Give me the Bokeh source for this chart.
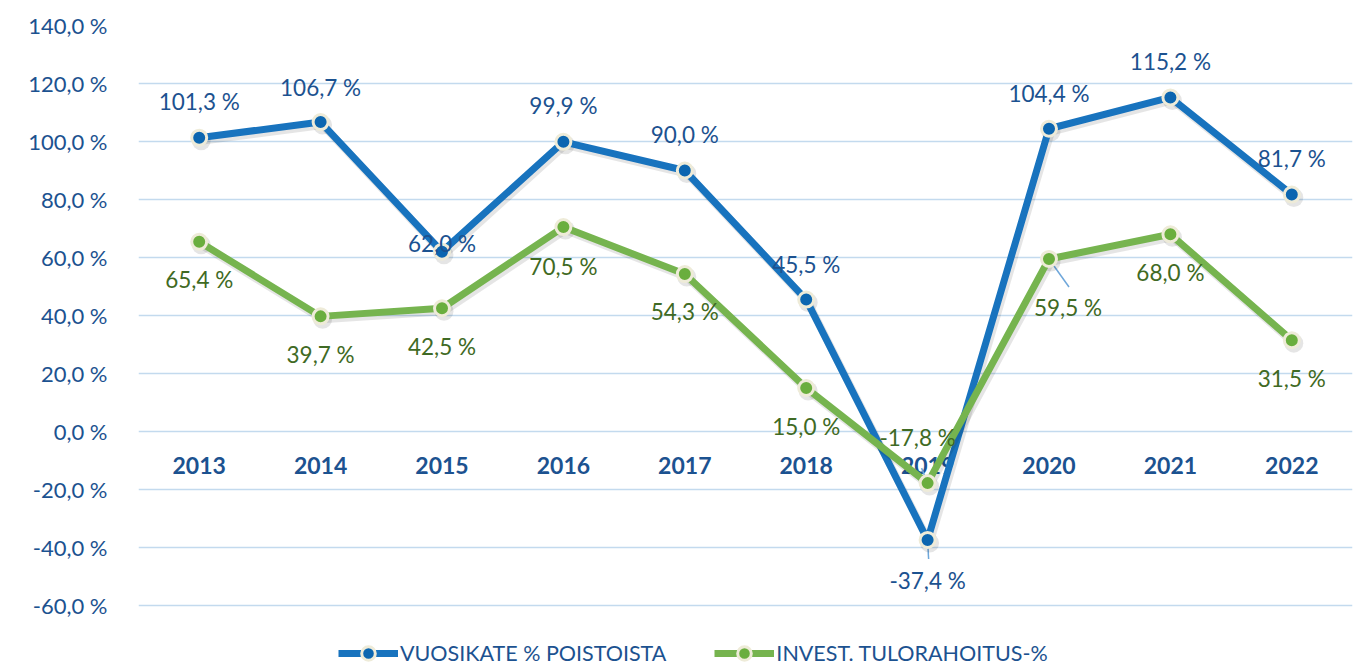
from bokeh.plotting import figure
from bokeh.models import (Range1d, FixedTicker, CustomJSTickFormatter, Legend, LegendItem,
                          ColumnDataSource)
from bokeh.core.properties import value
from bokeh.embed import file_html
from bokeh.resources import INLINE

# ---- data ----
years = ["2013", "2014", "2015", "2016", "2017", "2018", "2019", "2020", "2021", "2022"]
vuosikate = [101.3, 106.7, 62.0, 99.9, 90.0, 45.5, -37.4, 104.4, 115.2, 81.7]
tulorahoitus = [65.4, 39.7, 42.5, 70.5, 54.3, 15.0, -17.8, 59.5, 68.0, 31.5]
y_ticks = [-60, -40, -20, 0, 20, 40, 60, 80, 100, 120, 140]
series_names = ["VUOSIKATE % POISTOISTA", "INVEST. TULORAHOITUS-%"]

# ---- styling / layout ----
FONT = "Lato"
BLUE = "#1873BE"
BLUE_DOT = "#0C66B0"
GREEN = "#76B44F"
GREEN_DOT = "#6AAE3E"
BLUE_TXT = "#1C5290"
GREEN_TXT = "#3F6A24"
RING = "#EEEBD8"
GRID = "#C3DAEE"

W, H = 1360, 670
LEFT, RIGHT = 138, 1352          # frame horizontal extent (px)
TOP, Y_BOTTOM_TICK = 25, 605     # pixel rows of y=140 and y=-60
Y_MAX, Y_MIN_TICK = 140, -60
px_y = (Y_BOTTOM_TICK - TOP) / (Y_MAX - Y_MIN_TICK)
y_start = Y_MIN_TICK - (H - Y_BOTTOM_TICK) / px_y
px_x = (RIGHT - LEFT) / len(years)

# label offsets in screen pixels (dx, dy; dy positive = down)
blue_off = [(0, -36), (0, -35), (0, -8), (0, -36), (0, -36), (0, -35), (0, 41), (0, -35), (0, -36), (0, -36)]
green_off = [(0, 38), (0, 38), (0, 38), (0, 39), (0, 37), (0, 38), (-10, -46), (19, 49), (0, 38), (0, 38)]
SH_DX, SH_DY = 2, 3   # shadow offset, px

def fmt(v):
    return f"{v:.1f}".replace(".", ",") + " %"

x = list(range(len(years)))

p = figure(width=W, height=H, output_backend="svg", toolbar_location=None,
           x_range=Range1d(-0.5, len(years) - 0.5), y_range=Range1d(y_start, Y_MAX),
           x_axis_location=None, min_border_left=LEFT, min_border_right=W - RIGHT,
           min_border_top=TOP, min_border_bottom=0)
p.outline_line_color = None
p.background_fill_color = "white"
p.border_fill_color = "white"
p.xgrid.grid_line_color = None
p.ygrid.grid_line_color = GRID
p.ygrid.grid_line_width = 1.5

yax = p.yaxis[0]
yax.ticker = FixedTicker(ticks=y_ticks)
yax.formatter = CustomJSTickFormatter(code="return tick.toFixed(1).replace('.', ',') + ' %'")
yax.axis_line_color = None
yax.major_tick_line_color = None
yax.minor_tick_line_color = None
yax.major_label_standoff = 25
yax.major_label_text_font = FONT
yax.major_label_text_font_size = "22px"
yax.major_label_text_color = BLUE_TXT

# category labels at the zero line
p.text(x=x, y=[0] * len(x), text=years, y_offset=34, text_align="center",
       text_baseline="middle", text_font=value(FONT), text_font_style="bold",
       text_font_size="23px", text_color=BLUE_TXT)

# leader lines (px offsets converted to data units)
leaders = [(vuosikate, 6, (1, 19)), (tulorahoitus, 6, (-6, -15)), (tulorahoitus, 7, (20, 28))]
lx0, ly0, lx1, ly1 = [], [], [], []
for ser, i, (dx, dy) in leaders:
    lx0.append(x[i]); ly0.append(ser[i])
    lx1.append(x[i] + dx / px_x); ly1.append(ser[i] - dy / px_y)
p.segment(lx0, ly0, lx1, ly1, line_color="#6FA7DA", line_width=1.5)

def shadow(ser):
    sx = [v + SH_DX / px_x for v in x]
    sy = [v - SH_DY / px_y for v in ser]
    p.line(sx, sy, line_color="#000000", line_alpha=0.10, line_width=8, line_join="round")
    p.scatter(sx, sy, size=19, fill_color="#000000", fill_alpha=0.10, line_color=None)

# series
shadow(vuosikate)
bl = p.line(x, vuosikate, line_color=BLUE, line_width=7, line_join="round")
bs = p.scatter(x, vuosikate, size=15, fill_color=BLUE_DOT, line_color=RING, line_width=3)
shadow(tulorahoitus)
gl = p.line(x, tulorahoitus, line_color=GREEN, line_width=7, line_join="round")
gs = p.scatter(x, tulorahoitus, size=15, fill_color=GREEN_DOT, line_color=RING, line_width=3)

# data labels
bsrc = ColumnDataSource(dict(x=x, y=vuosikate, t=[fmt(v) for v in vuosikate],
                             dx=[o[0] for o in blue_off], dy=[o[1] for o in blue_off]))
gsrc = ColumnDataSource(dict(x=x, y=tulorahoitus, t=[fmt(v) for v in tulorahoitus],
                             dx=[o[0] for o in green_off], dy=[o[1] for o in green_off]))
p.text(x="x", y="y", text="t", x_offset="dx", y_offset="dy", source=bsrc,
       text_align="center", text_baseline="middle", text_font=value(FONT),
       text_font_size="22.5px", text_color=BLUE_TXT)
p.text(x="x", y="y", text="t", x_offset="dx", y_offset="dy", source=gsrc,
       text_align="center", text_baseline="middle", text_font=value(FONT),
       text_font_size="22.5px", text_color=GREEN_TXT)

legend = Legend(items=[LegendItem(label=series_names[0], renderers=[bl, bs]),
                       LegendItem(label=series_names[1], renderers=[gl, gs])],
                orientation="horizontal", location=(200, 0),
                glyph_width=60, glyph_height=34, label_height=34, label_standoff=2,
                spacing=48, padding=0, margin=0,
                label_text_font=FONT, label_text_font_size="21.5px",
                label_text_color=BLUE_TXT, background_fill_alpha=0,
                border_line_color=None)
p.add_layout(legend, "center")

open("out.html", "w").write(file_html(p, INLINE))
